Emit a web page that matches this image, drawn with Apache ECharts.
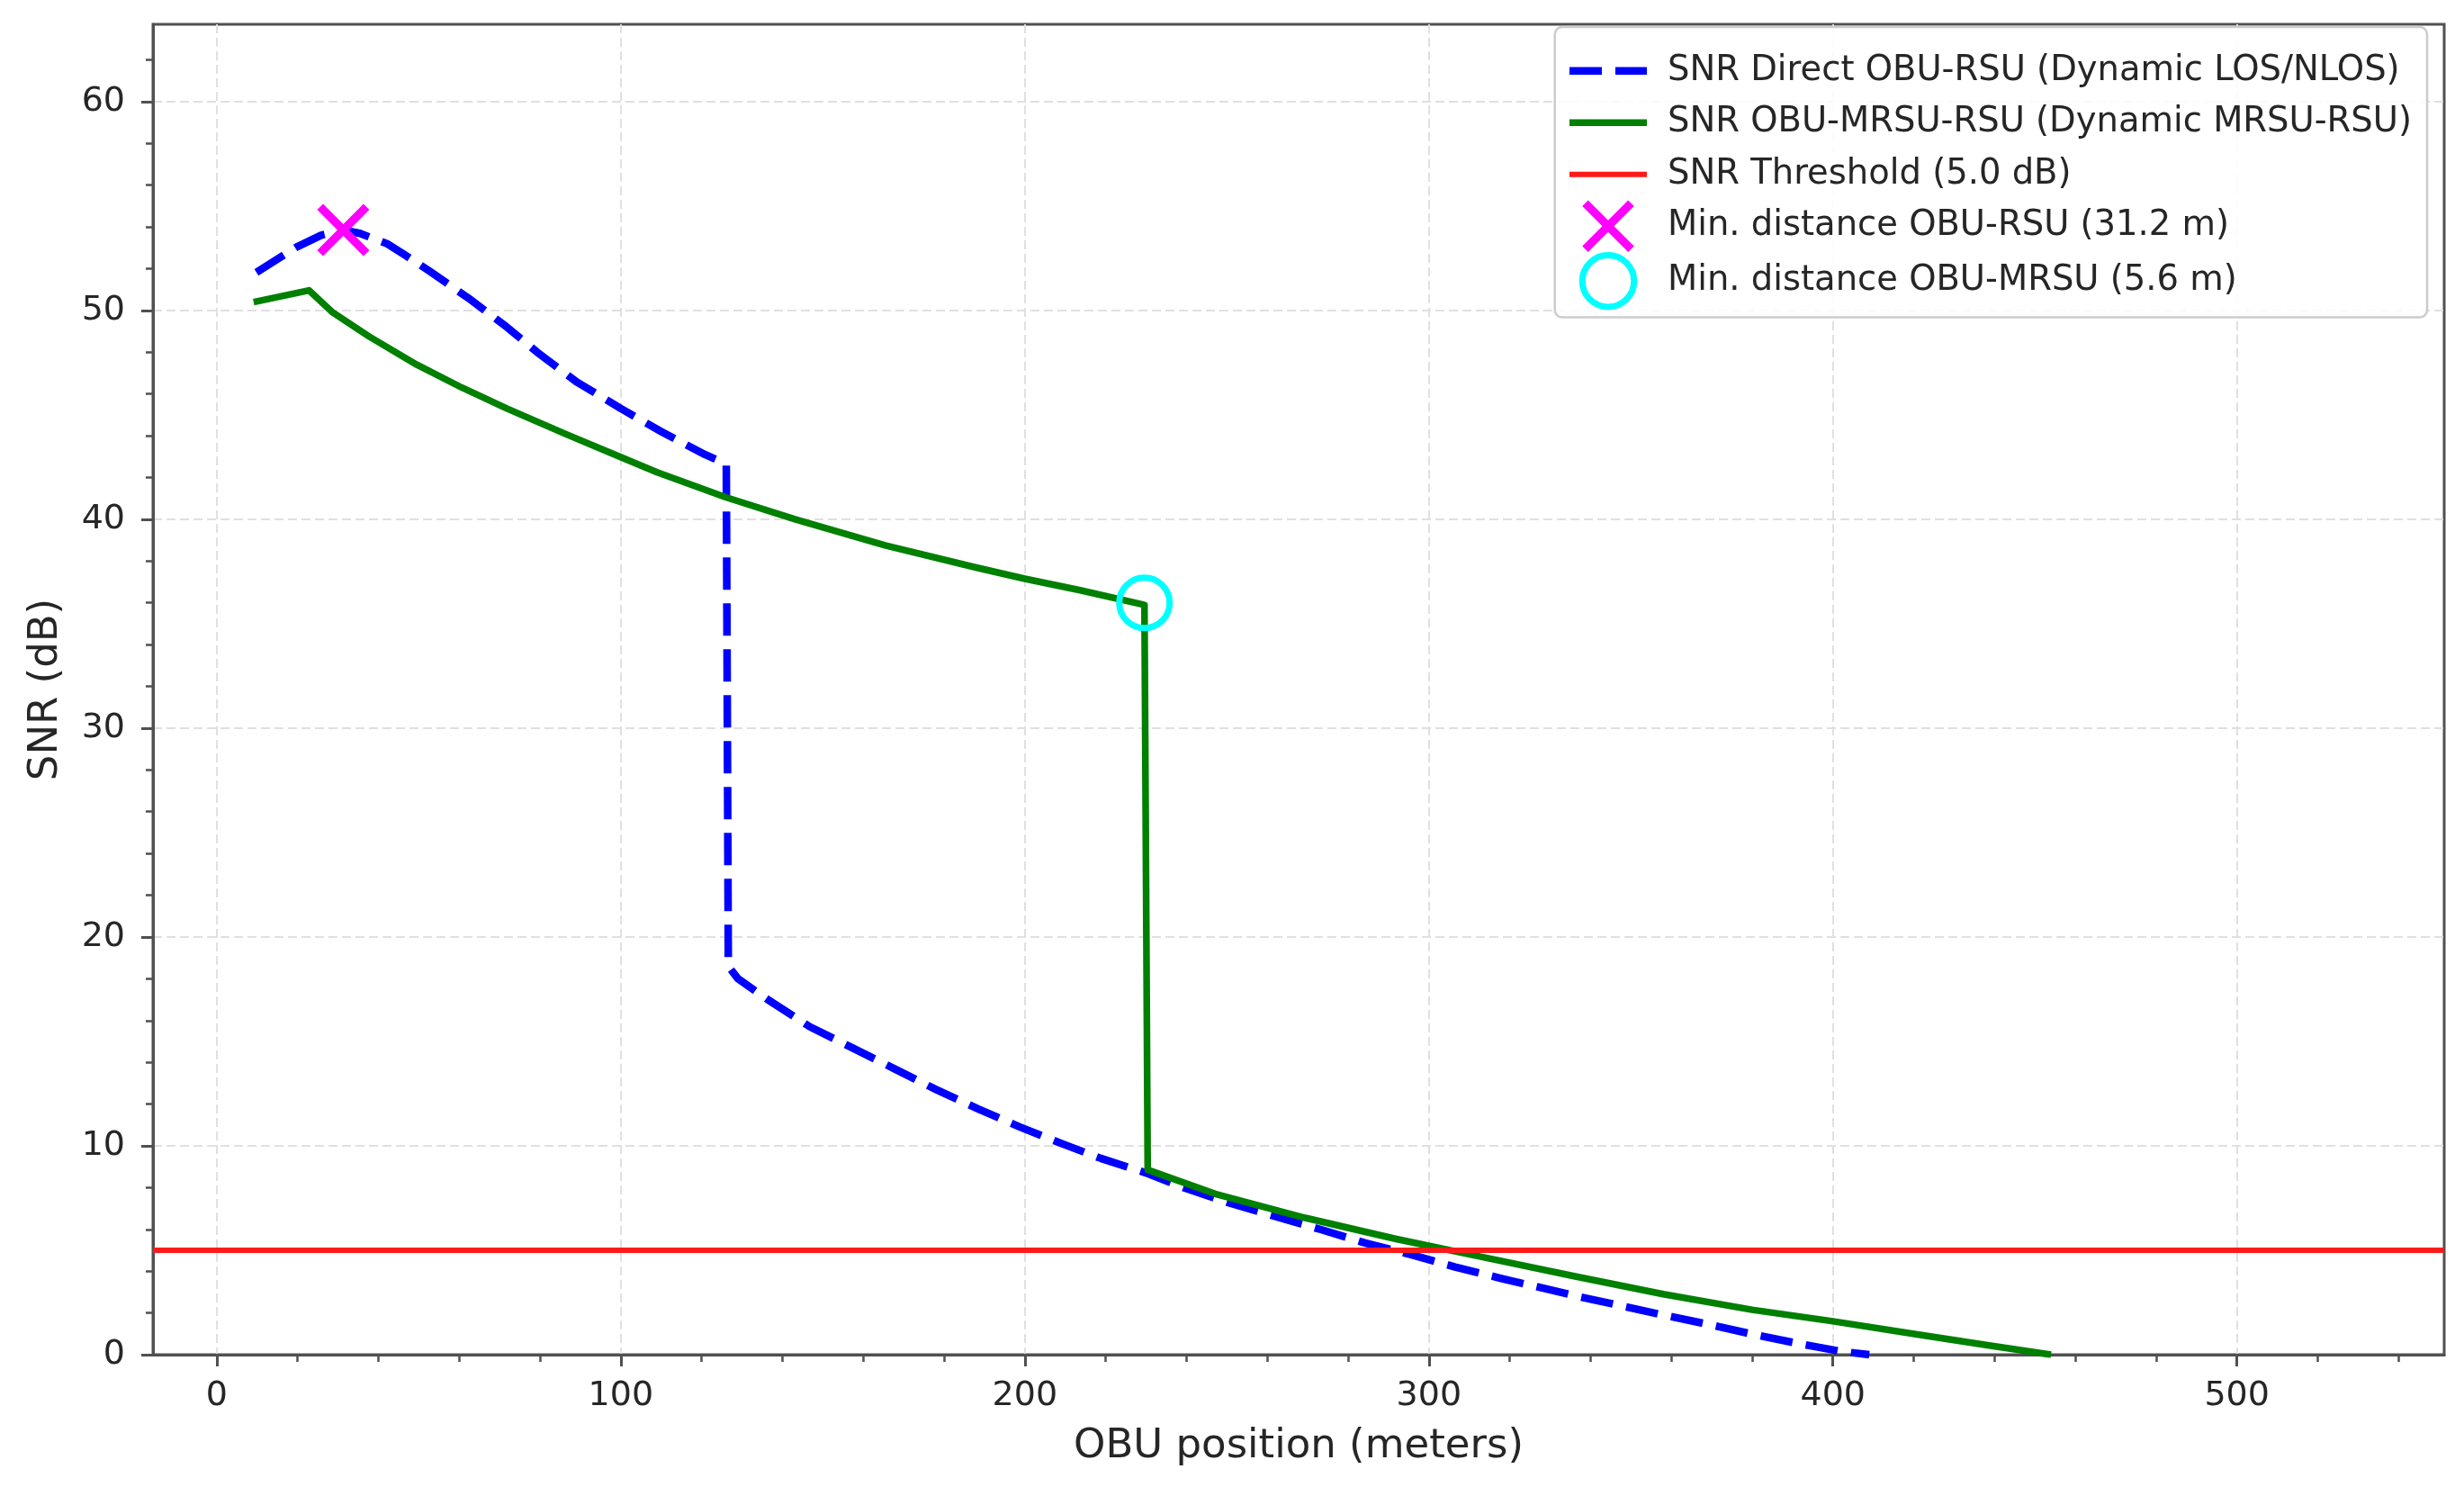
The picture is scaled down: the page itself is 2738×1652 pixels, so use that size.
<!DOCTYPE html>
<html>
<head>
<meta charset="utf-8">
<script src="https://cdn.jsdelivr.net/npm/echarts@6/dist/echarts.min.js"></script>
<style>
  html, body { margin: 0; padding: 0; background: #ffffff; }
  #chart { width: 2738px; height: 1652px; }
</style>
</head>
<body>
<div id="chart"></div>
<script>
// ---------- data ----------
const xTickValues = [0, 100, 200, 300, 400, 500];
const yTickValues = [0, 10, 20, 30, 40, 50, 60];

// SNR Direct OBU-RSU (Dynamic LOS/NLOS)
const directPos = [9.8, 19.8, 25.8, 31.3, 35.4, 42.1, 46.6, 52.5, 62.2, 71.8, 79.3, 88.9, 100.0, 110.0, 120.8, 126.1,
                   126.6, 129.0, 136.4, 146.8, 157.2, 167.6, 178.0, 188.5, 198.8, 209.2, 218.8, 230.0, 239.7, 250.8,
                   262.0, 273.1, 284.2, 295.4, 306.5, 317.7, 328.8, 336.2, 347.4, 358.5, 369.7, 380.8, 391.9, 402.3, 409.0];
const directSNR = [51.82, 53.04, 53.6, 53.85, 53.69, 53.2, 52.65, 51.9, 50.6, 49.2, 48.0, 46.6, 45.3, 44.2, 43.1, 42.65,
                   18.6, 18.0, 17.0, 15.7, 14.7, 13.7, 12.7, 11.76, 10.9, 10.1, 9.4, 8.7, 7.97, 7.25,
                   6.62, 6.0, 5.35, 4.8, 4.2, 3.66, 3.16, 2.82, 2.35, 1.88, 1.43, 0.95, 0.52, 0.15, 0.0];

// SNR OBU-MRSU-RSU (Dynamic MRSU-RSU)
const relayPos = [9.1, 22.8, 28.7, 37.7, 49.5, 60.7, 71.8, 86.7, 97.8, 109.0, 126.0, 143.1, 165.4, 187.7, 200.0, 213.7, 228.5, 229.6,
                  230.4, 247.1, 269.4, 291.7, 313.9, 336.2, 358.0, 380.0, 400.0, 421.6, 439.4, 454.0];
const relaySNR = [50.4, 50.96, 49.9, 48.75, 47.4, 46.3, 45.3, 44.05, 43.15, 42.25, 41.05, 40.0, 38.75, 37.7, 37.15, 36.6, 35.95, 35.9,
                  8.85, 7.7, 6.55, 5.55, 4.65, 3.75, 2.9, 2.15, 1.6, 0.95, 0.42, 0.0];

const thresholdDb = 5.0;
const minDistRSU = [31.3, 53.85];   // magenta x marker
const minDistMRSU = [229.6, 36.0];  // cyan circle marker

const seriesNames = [
  'SNR Direct OBU-RSU (Dynamic LOS/NLOS)',
  'SNR OBU-MRSU-RSU (Dynamic MRSU-RSU)',
  'SNR Threshold (5.0 dB)',
  'Min. distance OBU-RSU (31.2 m)',
  'Min. distance OBU-MRSU (5.6 m)'
];

// axis limits
const xMin = -15.8, xMax = 551.3;
const yMin = 0, yMax = 63.7;

// ---------- chart ----------
const zip = (xs, ys) => xs.map((x, i) => [x, ys[i]]);
const xPath = 'path://M0,11.3 L11.3,0 L50,38.7 L88.7,0 L100,11.3 L61.3,50 L100,88.7 L88.7,100 L50,61.3 L11.3,100 L0,88.7 L38.7,50 Z';
const FONT = 'DejaVu Sans';
const AX = '#505050';
const TXT = '#262626';

const chart = echarts.init(document.getElementById('chart'), null, { renderer: 'canvas' });

const option = {
  animation: false,
  backgroundColor: '#ffffff',
  textStyle: { fontFamily: FONT },
  grid: {
    left: 170, right: 22, top: 27, bottom: 147,
    show: true, borderColor: AX, borderWidth: 3, backgroundColor: 'rgba(0,0,0,0)'
  },
  legend: {
    orient: 'vertical',
    right: 41, top: 30,
    itemWidth: 86, itemHeight: 57.5, itemGap: 0,
    padding: [20, 17, 8, 12],
    backgroundColor: 'rgba(255,255,255,0.85)',
    borderColor: '#cccccc', borderWidth: 2.5, borderRadius: 8,
    textStyle: { fontFamily: FONT, fontSize: 38.5, color: TXT, lineHeight: 57.5, padding: [0, 0, 0, 18] },
    lineStyle: { width: 'inherit' },
    data: [
      { name: seriesNames[0], itemStyle: { opacity: 0 } },
      { name: seriesNames[1], itemStyle: { opacity: 0 } },
      { name: seriesNames[2], itemStyle: { opacity: 0 } },
      { name: seriesNames[3], icon: xPath, itemStyle: { color: '#ff00ff', borderWidth: 0 } },
      { name: seriesNames[4], icon: 'circle', itemStyle: { color: 'rgba(0,0,0,0)', borderColor: '#00ffff', borderWidth: 7 } }
    ]
  },
  xAxis: {
    type: 'value', min: xMin, max: xMax,
    name: 'OBU position (meters)', nameLocation: 'middle', nameGap: 80,
    nameTextStyle: { fontFamily: FONT, fontSize: 45, color: TXT },
    axisLine: { show: true, onZero: false, lineStyle: { color: AX, width: 3 } },
    axisTick: { show: true, length: 13, customValues: xTickValues, lineStyle: { color: AX, width: 3 } },
    minorTick: { show: true, splitNumber: 5, length: 8, lineStyle: { color: AX, width: 2.5 } },
    axisLabel: {
      customValues: xTickValues, margin: 27,
      fontFamily: FONT, fontSize: 38, color: TXT,
      formatter: v => (xTickValues.indexOf(v) >= 0 ? String(v) : '')
    },
    splitLine: { show: true, lineStyle: { color: '#e0e0e0', width: 2, type: [10, 5] } },
    minorSplitLine: { show: false }
  },
  yAxis: {
    type: 'value', min: yMin, max: yMax, interval: 10,
    name: 'SNR (dB)', nameLocation: 'middle', nameGap: 96, nameRotate: 90,
    nameTextStyle: { fontFamily: FONT, fontSize: 45, color: TXT },
    axisLine: { show: true, onZero: false, lineStyle: { color: AX, width: 3 } },
    axisTick: { show: true, length: 13, customValues: yTickValues, lineStyle: { color: AX, width: 3 } },
    minorTick: { show: true, splitNumber: 5, length: 8, lineStyle: { color: AX, width: 2.5 } },
    axisLabel: {
      customValues: yTickValues, margin: 31,
      fontFamily: FONT, fontSize: 38, color: TXT,
      formatter: v => (yTickValues.indexOf(v) >= 0 ? String(v) : '')
    },
    splitLine: { show: true, lineStyle: { color: '#e0e0e0', width: 2, type: [10, 5] } }
  },
  series: [
    {
      name: seriesNames[0], type: 'line', data: zip(directPos, directSNR),
      showSymbol: false, symbol: 'none', clip: true, z: 2,
      lineStyle: { color: '#0000ff', width: 8.5, type: [36, 15], cap: 'butt', join: 'round' },
      itemStyle: { color: '#0000ff' }
    },
    {
      name: seriesNames[1], type: 'line', data: zip(relayPos, relaySNR),
      showSymbol: false, symbol: 'none', clip: true, z: 3,
      lineStyle: { color: '#008000', width: 7.5, type: 'solid', join: 'round' },
      itemStyle: { color: '#008000' }
    },
    {
      name: seriesNames[2], type: 'line', data: [],
      showSymbol: false, symbol: 'none', z: 4,
      lineStyle: { color: '#ff1a1a', width: 6 },
      itemStyle: { color: '#ff1a1a' },
      markLine: {
        silent: true, symbol: 'none', animation: false,
        label: { show: false },
        lineStyle: { color: '#ff1a1a', width: 6, type: 'solid' },
        emphasis: { disabled: true },
        data: [{ yAxis: thresholdDb }]
      }
    },
    {
      name: seriesNames[3], type: 'scatter', data: [minDistRSU],
      symbol: xPath, symbolSize: 58, z: 5,
      itemStyle: { color: '#ff00ff', opacity: 1 }
    },
    {
      name: seriesNames[4], type: 'scatter', data: [minDistMRSU],
      symbol: 'circle', symbolSize: 56, z: 6,
      itemStyle: { color: 'rgba(0,0,0,0)', borderColor: '#00ffff', borderWidth: 7, opacity: 1 }
    }
  ]
};

chart.setOption(option);
</script>
</body>
</html>
